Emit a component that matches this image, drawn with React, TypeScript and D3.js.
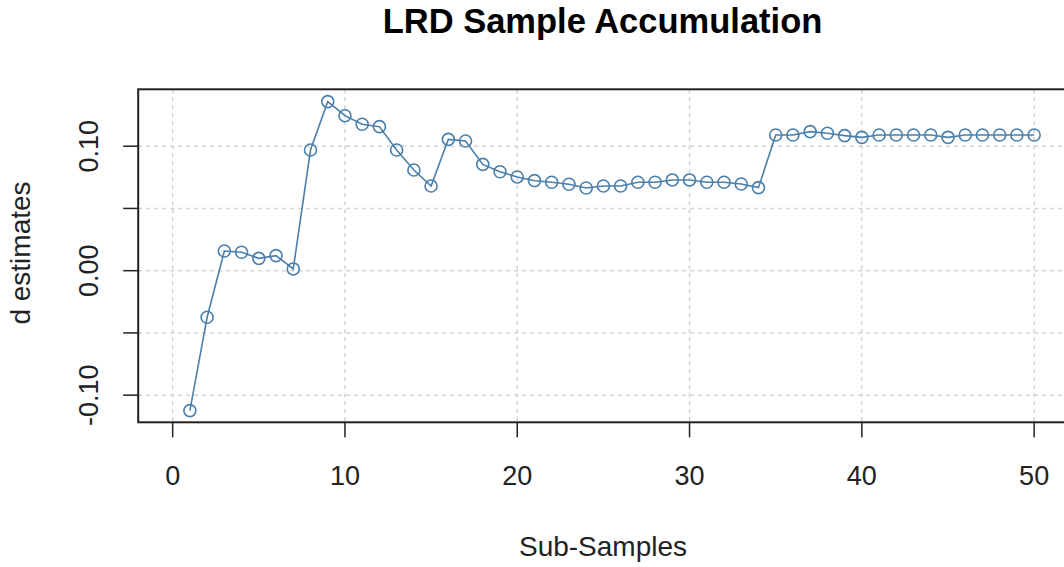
import React from "react";
import * as d3 from "d3";

const subSamples: number[] = Array.from({ length: 50 }, (_, i) => i + 1);
const dEstimates: number[] = [
  -0.1124, -0.0374, 0.0158, 0.0148, 0.0099, 0.0121, 0.0014, 0.0969, 0.1358, 0.1245,
  0.1176, 0.1157, 0.0969, 0.0809, 0.068, 0.1055, 0.1042, 0.0854, 0.0795, 0.0753,
  0.0723, 0.071, 0.0694, 0.0664, 0.068, 0.068, 0.071, 0.071, 0.0729, 0.0729,
  0.071, 0.071, 0.0696, 0.0667, 0.109, 0.109, 0.1117, 0.1104, 0.1085, 0.1071,
  0.109, 0.109, 0.109, 0.109, 0.1071, 0.109, 0.109, 0.109, 0.109, 0.109,
];
const xTicks: number[] = [0, 10, 20, 30, 40, 50];
const yTickLabels: string[] = ["-0.10", "0.00", "0.10"];
const yTicks: number[] = [-0.1, 0, 0.1];
const yGrid: number[] = [-0.1, -0.05, 0, 0.05, 0.1];

const W = 1064;
const H = 567;
const FONT = "'Liberation Sans', Arial, Helvetica, sans-serif";
const COLOR = "#4a7fab";

export default function App() {
  const x = d3.scaleLinear().domain([-2, 52]).range([138.2, 1068.6]);
  const y = d3.scaleLinear().domain([-0.1218, 0.1457]).range([422.3, 89.3]);
  const line = d3
    .line<number>()
    .x((_, i) => x(subSamples[i]))
    .y((d) => y(d));
  const [x0, x1] = x.range();
  const [yb, yt] = y.range();

  return (
    <svg
      width={W}
      height={H}
      style={{ position: "absolute", left: 0, top: 0, background: "#fff" }}
      fontFamily={FONT}
    >
      <rect x={0} y={0} width={W} height={H} fill="#fff" />
      {xTicks.map((t) => (
        <line
          key={"gx" + t}
          x1={x(t)}
          x2={x(t)}
          y1={yt}
          y2={yb}
          stroke="#d3d3d3"
          strokeWidth={1.5}
          strokeDasharray="4,4"
        />
      ))}
      {yGrid.map((t) => (
        <line
          key={"gy" + t}
          x1={x0}
          x2={x1}
          y1={y(t)}
          y2={y(t)}
          stroke="#d3d3d3"
          strokeWidth={1.5}
          strokeDasharray="4,4"
        />
      ))}
      <path d={line(dEstimates) || ""} fill="none" stroke={COLOR} strokeWidth={1.6} />
      {dEstimates.map((d, i) => (
        <circle
          key={"p" + i}
          cx={x(subSamples[i])}
          cy={y(d)}
          r={6}
          fill="none"
          stroke={COLOR}
          strokeWidth={1.6}
        />
      ))}
      <rect x={x0} y={yt} width={x1 - x0} height={yb - yt} fill="none" stroke="#222" strokeWidth={2} />
      {xTicks.map((t) => (
        <g key={"xt" + t}>
          <line x1={x(t)} x2={x(t)} y1={yb} y2={yb + 15} stroke="#222" strokeWidth={1.5} />
          <text x={x(t)} y={485} textAnchor="middle" fontSize={27} fill="#222">
            {t}
          </text>
        </g>
      ))}
      {yGrid.map((t) => (
        <line key={"yt" + t} x1={x0 - 15} x2={x0} y1={y(t)} y2={y(t)} stroke="#222" strokeWidth={1.5} />
      ))}
      {yTicks.map((t, i) => (
        <text
          key={"yl" + t}
          transform={`translate(98,${y(t)}) rotate(-90)`}
          textAnchor="middle"
          fontSize={27}
          fill="#222"
        >
          {yTickLabels[i]}
        </text>
      ))}
      <text x={603} y={556} textAnchor="middle" fontSize={28} fill="#222">
        Sub-Samples
      </text>
      <text transform="translate(30,253) rotate(-90)" textAnchor="middle" fontSize={28} fill="#222">
        d estimates
      </text>
      <text x={602.5} y={33} textAnchor="middle" fontSize={34.5} fontWeight="bold" fill="#000">
        LRD Sample Accumulation
      </text>
    </svg>
  );
}
